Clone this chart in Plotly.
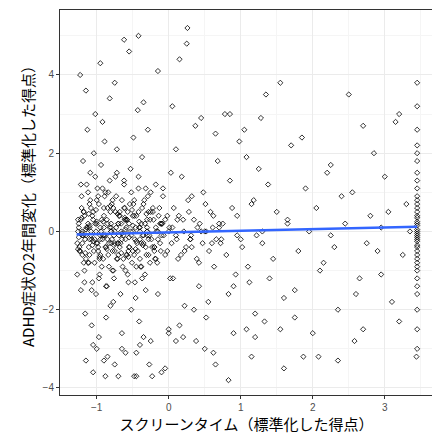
import plotly.graph_objects as go

screen_x = [
-1.25,-1.2,-1.18,-1.15,-1.12,-1.1,-1.08,-1.05,-1.03,-1.0,-0.98,-0.95,-0.93,-0.9,-0.88,-0.85,-0.83,-0.8,-0.78,-0.75,
-1.24,-1.21,-1.17,-1.14,-1.11,-1.09,-1.06,-1.04,-1.01,-0.99,-0.96,-0.94,-0.91,-0.89,-0.86,-0.84,-0.81,-0.79,-0.76,-0.74,
-1.26,-1.22,-1.19,-1.16,-1.13,-1.07,-1.02,-0.97,-0.92,-0.87,-0.82,-0.77,-0.72,-0.7,-0.68,-0.65,-0.62,-0.6,-0.58,-0.55,
-0.73,-0.71,-0.69,-0.66,-0.63,-0.61,-0.59,-0.56,-0.53,-0.5,-0.48,-0.45,-0.42,-0.4,-0.38,-0.35,-0.32,-0.3,-0.28,-0.25,
-0.52,-0.49,-0.46,-0.43,-0.41,-0.37,-0.33,-0.29,-0.26,-0.22,-0.2,-0.18,-0.15,-0.12,-0.1,-0.08,-0.05,-0.02,0.0,0.03,
-1.23,-1.15,-1.05,-0.95,-0.85,-0.75,-0.65,-0.55,-0.45,-0.35,-0.25,-0.15,-0.05,0.05,0.15,0.25,0.35,0.45,0.55,0.65,
-1.2,-1.1,-1.0,-0.9,-0.8,-0.7,-0.6,-0.5,-0.4,-0.3,-0.2,-0.1,0.0,0.1,0.2,0.3,0.4,0.5,0.6,0.7,
0.06,0.1,0.13,0.18,0.22,0.27,0.32,0.37,0.42,0.48,0.52,0.58,0.63,0.68,0.73,0.78,0.83,0.88,0.93,0.98,
-1.18,-1.08,-0.98,-0.88,-0.78,-0.68,-0.58,-0.48,-0.38,-0.28,-0.18,-0.08,0.02,0.12,0.22,0.32,0.42,0.52,0.62,0.72,
0.75,0.8,0.85,0.9,0.95,1.0,1.05,1.1,1.15,1.2,1.25,1.3,1.35,1.4,1.5,1.6,1.7,1.8,1.9,2.0,
1.02,1.08,1.12,1.18,1.22,1.28,1.33,1.38,1.45,1.55,1.65,1.75,1.85,1.95,2.1,2.2,2.3,2.4,2.5,2.6,
2.05,2.15,2.25,2.35,2.45,2.55,2.65,2.7,2.8,2.9,3.0,3.1,3.2,3.3,2.75,2.85,2.95,3.05,3.15,3.25,
3.45,3.45,3.45,3.45,3.45,3.45,3.45,3.45,3.45,3.45,3.45,3.45,3.45,3.45,3.45,3.45,3.45,3.45,3.45,3.45,
-1.15,-1.05,-0.88,-0.75,-0.7,-0.65,-0.48,-0.45,-0.35,-0.27,-0.23,0.0,0.1,0.38,0.62,0.65,0.83,0.9,1.08,1.2,
1.55,1.6,1.87,2.08,2.35,2.58,3.44,-1.0,-0.9,-0.6,-0.4,-0.1,0.2,0.26,0.5,0.85,1.15,1.75,2.7,3.2,
-1.2,-1.1,-0.95,-0.8,-0.55,-0.3,-0.15,0.05,0.3,0.45,0.7,0.95,1.3,1.65,2.25,2.95,3.35,-0.62,-0.42,0.15]

adhd_change = [
0.1,-0.3,0.5,-0.1,0.2,-0.6,0.0,0.3,-0.2,0.8,-0.4,0.1,-0.9,0.4,-0.1,0.6,-0.3,0.2,-0.5,0.0,
-0.5,0.9,-1.0,1.2,-0.8,1.5,-1.3,2.0,-1.6,1.1,-1.1,1.7,-0.7,2.3,-1.4,1.0,-1.9,0.7,-1.2,1.4,
0.3,-1.5,1.8,-2.1,2.6,-2.4,3.0,-2.7,2.8,-2.2,3.4,-1.8,2.1,-0.6,0.5,-0.2,1.3,-1.0,0.3,-0.4,
0.9,-0.3,-0.1,0.2,-0.7,0.6,0.1,-1.3,1.6,-0.5,0.4,-0.9,1.1,0.0,-0.3,0.7,-1.5,0.3,-0.2,1.0,
-2.0,2.4,-1.7,3.1,-2.3,1.9,-1.1,2.6,-0.8,0.5,-0.4,1.2,-1.6,0.2,-0.1,0.9,-0.6,0.4,-2.5,1.5,
4.0,3.6,-2.9,4.3,-3.2,3.8,-2.6,4.6,-3.1,3.3,-2.8,4.1,-3.5,3.2,-2.4,4.8,-2.0,2.9,-1.8,2.5,
0.0,-0.2,0.2,-0.1,0.1,-0.3,0.3,0.0,-0.2,0.1,-0.4,0.2,0.0,-0.1,0.3,-0.2,0.1,0.0,-0.3,0.2,
-1.2,2.1,-0.7,1.4,-1.9,0.8,-0.4,2.7,-1.4,1.0,-2.2,0.5,-0.9,1.8,-0.2,3.0,-1.6,0.6,-1.1,2.3,
-0.8,0.6,-0.5,1.0,-1.0,0.4,-0.6,0.8,-0.9,0.5,-0.7,1.1,-1.2,0.3,-0.5,0.9,-0.8,0.0,0.4,-0.3,
0.2,-0.6,1.3,-1.4,0.4,-0.2,2.6,-0.9,0.7,-2.1,1.6,-0.3,3.5,-1.2,0.5,-1.7,2.2,-0.5,1.1,-2.6,
-0.4,1.9,-1.3,0.8,-0.1,2.9,-2.3,1.2,-0.7,3.8,0.3,-1.5,2.4,0.0,-1.0,1.5,-0.4,0.9,3.5,-1.6,
0.6,-0.8,1.7,-2.0,0.2,1.0,-1.2,2.7,0.4,-0.5,1.4,-1.8,3.0,0.7,-0.3,2.0,-1.1,0.5,2.8,-0.6,
3.8,3.2,2.6,2.0,1.5,1.1,0.7,0.4,0.2,0.0,-0.2,-0.4,-0.6,-0.9,-1.2,-1.6,-2.0,-2.5,-3.0,-0.1,
-3.3,-3.6,-3.7,-3.4,-3.7,-3.0,-3.7,-3.7,-2.7,-3.4,-3.7,-2.6,-2.8,-2.8,-3.1,-3.4,-3.8,-2.6,-2.5,-2.7,
-2.5,-3.5,-3.2,-3.2,-3.3,-2.8,-3.2,-3.0,-3.3,-3.1,-2.9,-3.6,-2.7,5.2,-3.0,3.0,-3.2,-2.2,-2.5,-2.3,
-0.1,0.1,-0.2,0.0,0.2,-0.1,0.0,0.1,-0.2,0.0,0.1,-0.1,0.0,0.2,-0.1,0.1,0.0,4.9,5.0,4.4]

# dense core of the cloud (x, y read as a band around zero)
core_x = [
-1.27,-1.25,-1.23,-1.21,-1.19,-1.17,-1.15,-1.13,-1.11,-1.09,-1.07,-1.05,-1.03,-1.01,-0.99,-0.97,-0.95,-0.93,-0.91,-0.89,
-0.87,-0.85,-0.83,-0.81,-0.79,-0.77,-0.75,-0.73,-0.71,-0.69,-0.67,-0.65,-0.63,-0.61,-0.59,-0.57,-0.55,-0.53,-0.51,-0.49,
-0.47,-0.45,-0.43,-0.41,-0.39,-0.37,-0.35,-0.33,-0.31,-0.29,-0.27,-0.25,-0.23,-0.21,-0.19,-0.17,-0.15,-0.13,-0.11,-0.09,
-1.26,-1.24,-1.22,-1.2,-1.18,-1.16,-1.14,-1.12,-1.1,-1.08,-1.06,-1.04,-1.02,-1.0,-0.98,-0.96,-0.94,-0.92,-0.9,-0.88,
-0.86,-0.84,-0.82,-0.8,-0.78,-0.76,-0.74,-0.72,-0.7,-0.68,-0.66,-0.64,-0.62,-0.6,-0.58,-0.56,-0.54,-0.52,-0.5,-0.48,
-0.46,-0.44,-0.42,-0.4,-0.38,-0.36,-0.34,-0.32,-0.3,-0.28,-0.26,-0.24,-0.22,-0.2,-0.18,-0.16,-0.14,-0.12,-0.1,-0.07,
-0.05,-0.02,0.01,0.04,0.07,0.11,0.14,0.17,0.21,0.24,0.28,0.31,0.35,0.39,0.43,0.47,0.51,0.56,0.61,0.66,
-1.27,-1.22,-1.17,-1.12,-1.07,-1.02,-0.97,-0.92,-0.87,-0.82,-0.77,-0.72,-0.67,-0.62,-0.57,-0.52,-0.47,-0.42,-0.37,-0.32,
-1.25,-1.2,-1.15,-1.1,-1.05,-1.0,-0.95,-0.9,-0.85,-0.8,-0.75,-0.7,-0.65,-0.6,-0.55,-0.5,-0.45,-0.4,-0.35,-0.3,
-1.26,-1.21,-1.16,-1.11,-1.06,-1.01,-0.96,-0.91,-0.86,-0.81,-0.76,-0.71,-0.66,-0.61,-0.56,-0.51,-0.46,-0.41,-0.36,-0.31,
3.45,3.45,3.45,3.45,3.45,3.45,3.45,3.45,3.45,3.45,3.45,3.45,3.45,3.45,3.45,3.45,3.45,3.45,3.45,3.45]
core_y = [
-0.3,0.2,-0.5,0.6,-0.1,0.4,-0.7,0.1,-0.4,0.8,-0.2,0.5,-0.8,0.0,-0.3,0.7,-0.6,0.3,-0.1,0.9,
-0.4,0.2,-0.9,0.5,-0.2,0.6,-0.5,0.1,-0.7,0.4,-0.3,0.8,-0.1,0.3,-0.6,0.5,-0.4,0.0,-0.8,0.7,
-0.2,0.4,-0.5,0.1,-0.9,0.6,-0.3,0.2,-0.6,0.9,-0.1,0.5,-0.4,0.3,-0.7,0.0,-0.2,0.6,-0.5,0.2,
0.0,-0.4,0.3,-0.6,0.5,-0.2,0.1,-0.8,0.7,-0.1,0.4,-0.5,0.2,-0.3,0.9,-0.7,0.0,-0.2,0.6,-0.4,
0.3,-0.6,0.1,-0.3,0.8,-0.1,0.5,-0.7,0.2,-0.4,0.0,-0.9,0.6,-0.2,0.3,-0.5,0.7,-0.1,0.4,-0.6,
0.1,-0.3,0.5,-0.7,0.2,-0.1,0.8,-0.4,0.0,-0.6,0.3,-0.2,0.6,-0.5,0.1,-0.8,0.4,-0.3,0.2,-0.1,
0.3,-0.5,0.1,-0.3,0.6,-0.2,0.4,-0.6,0.0,-0.4,0.5,-0.1,0.3,-0.7,0.2,-0.3,0.7,-0.5,0.1,-0.2,
-1.1,1.2,-1.3,1.0,-1.5,1.4,-1.2,1.1,-1.4,1.3,-1.0,1.5,-1.6,1.2,-1.1,1.0,-1.3,1.4,-1.2,1.1,
-0.15,-0.05,0.05,0.15,-0.25,0.25,-0.1,0.1,-0.2,0.0,-0.3,0.2,-0.05,0.05,-0.15,0.15,-0.25,0.1,-0.1,0.0,
-0.45,0.35,-0.55,0.45,-0.35,0.55,-0.65,0.25,-0.45,0.65,-0.35,0.45,-0.55,0.35,-0.65,0.55,-0.45,0.25,-0.35,0.45,
0.05,-0.05,0.15,-0.15,0.25,-0.25,0.35,-0.35,0.5,-0.5,0.6,-0.7,0.8,-0.8,0.9,-1.0,1.3,-1.4,1.8,2.2]

trend_x = [-1.28, 3.45]
trend_y = [-0.08, 0.12]

marker = dict(symbol="diamond-open", size=4, color="black", line=dict(width=0.8))
fig = go.Figure()
fig.add_trace(go.Scatter(x=screen_x + core_x, y=adhd_change + core_y, mode="markers",
    marker=marker, showlegend=False))
fig.add_trace(go.Scatter(x=trend_x, y=trend_y, mode="lines",
    line=dict(color="#3366FF", width=2.5), showlegend=False))

axis_common = dict(showgrid=True, gridcolor="#EBEBEB", gridwidth=1, zeroline=False,
    showline=True, linecolor="#333333", linewidth=1, mirror=True,
    ticks="outside", ticklen=3, tickcolor="#333333",
    tickfont=dict(size=10, color="#4D4D4D", family="Liberation Sans"))
fig.update_layout(
    width=440, height=446, plot_bgcolor="white", paper_bgcolor="white",
    margin=dict(l=52, r=15, t=2, b=59),
    font=dict(family="Noto Sans CJK JP"),
    xaxis=dict(range=[-1.51, 3.67], tickvals=[-1, 0, 1, 2, 3], **axis_common,
        title=dict(text="スクリーンタイム（標準化した得点）", font=dict(size=15, color="black"), standoff=4)),
    yaxis=dict(range=[-4.18, 5.66], tickvals=[-4, -2, 0, 2, 4], **axis_common,
        title=dict(text="ADHD症状の2年間変化（標準化した得点）", font=dict(size=15, color="black"), standoff=4)),
)
fig.update_xaxes(minor=dict(tickvals=[-1.5,-0.5,0.5,1.5,2.5,3.5], showgrid=True, gridcolor="#F5F5F5", ticks=""))
fig.update_yaxes(minor=dict(tickvals=[-3,-1,1,3,5], showgrid=True, gridcolor="#F5F5F5", ticks=""))
fig.write_html("out.html")
